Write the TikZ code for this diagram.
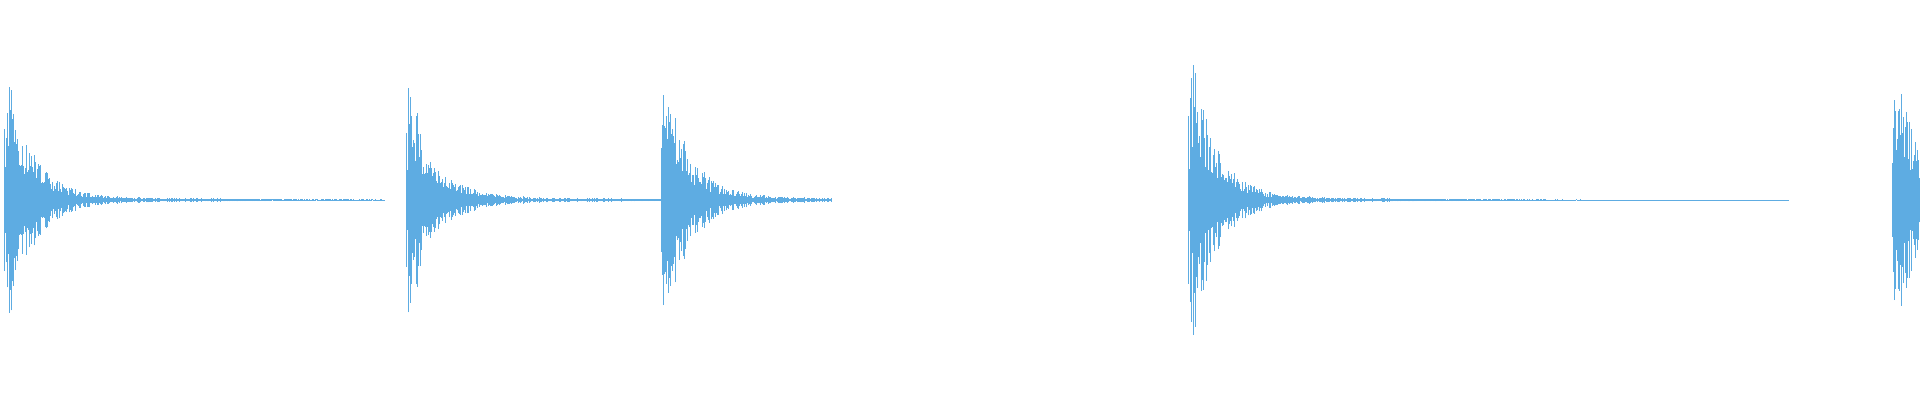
\documentclass[tikz,border=0pt]{standalone}
\usepackage{tikz}
\definecolor{wave}{RGB}{94,172,226}
\pgfmathsetseed{7}
\begin{document}
\begin{tikzpicture}
[x=0.01cm, y=0.01cm,
 smp/.style={draw=wave, line width=0.009cm}]
\useasboundingbox (0,0) rectangle (1920,400);
% bursts: start / peak / length
\foreach \s/\a/\n in {4/145/380, 406/132/260, 661/146/170, 1188/165/600, 1892/158/28}{
  \foreach \t in {0,...,\n}{
    \pgfmathsetmacro{\env}{(\t<2 ? 0.5 : 1)*\a*exp(-\t/24) + 5*exp(-\t/180)}
    \pgfmathsetmacro{\h}{\env*(0.35+0.65*rnd)}
    \draw[smp] (\s+\t,200-\h) -- (\s+\t,200+\h);
  }
}
\end{tikzpicture}
\end{document}
